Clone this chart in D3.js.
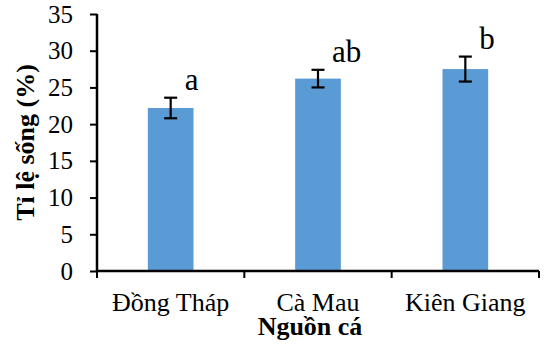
<!DOCTYPE html>
<html>
<head>
<meta charset="utf-8">
<script src="https://cdn.jsdelivr.net/npm/d3@7"></script>
<style>
  body { margin: 0; background: #fff; }
  svg text { font-family: "Liberation Serif", "Times New Roman", "DejaVu Serif", serif !important; fill: #000; }
</style>
</head>
<body>
<div id="chart"></div>
<script>
// data
var categories = ["Đồng Tháp", "Cà Mau", "Kiên Giang"];
var survival = [22.2, 26.2, 27.5];
var errors = [1.4, 1.2, 1.7];
var letters = ["a", "ab", "b"];
var yTicks = [0, 5, 10, 15, 20, 25, 30, 35];

var width = 544, height = 345;
var margin = {left: 97, right: 5, top: 14, bottom: 74};

var svg = d3.select("#chart").append("svg")
    .attr("width", width)
    .attr("height", height);

var x = d3.scaleBand()
    .domain(categories)
    .range([margin.left, width - margin.right])
    .padding(0);

var y = d3.scaleLinear()
    .domain([0, 35])
    .range([height - margin.bottom, margin.top]);

var barW = x.bandwidth() * 0.31;

// bars
svg.selectAll("rect.bar")
    .data(categories)
  .enter().append("rect")
    .attr("class", "bar")
    .attr("x", function(d) { return x(d) + x.bandwidth() / 2 - barW / 2; })
    .attr("y", function(d, i) { return y(survival[i]); })
    .attr("width", barW)
    .attr("height", function(d, i) { return y(0) - y(survival[i]); })
    .attr("fill", "#5B9BD5");

// error bars
var eb = svg.selectAll("g.err")
    .data(categories)
  .enter().append("g")
    .attr("class", "err")
    .attr("stroke", "#000")
    .attr("stroke-width", 2.2);

eb.append("line")
    .attr("x1", function(d) { return x(d) + x.bandwidth() / 2; })
    .attr("x2", function(d) { return x(d) + x.bandwidth() / 2; })
    .attr("y1", function(d, i) { return y(survival[i] + errors[i]); })
    .attr("y2", function(d, i) { return y(survival[i] - errors[i]); });

[1, -1].forEach(function(s) {
  eb.append("line")
      .attr("x1", function(d) { return x(d) + x.bandwidth() / 2 - 6.5; })
      .attr("x2", function(d) { return x(d) + x.bandwidth() / 2 + 6.5; })
      .attr("y1", function(d, i) { return y(survival[i] + s * errors[i]); })
      .attr("y2", function(d, i) { return y(survival[i] + s * errors[i]); });
});

// significance letters
svg.selectAll("text.sig")
    .data(categories)
  .enter().append("text")
    .attr("class", "sig")
    .attr("x", function(d) { return x(d) + x.bandwidth() / 2 + 14; })
    .attr("y", function(d, i) { return y(survival[i] + errors[i]) - 8; })
    .attr("text-anchor", "start")
    .style("font-size", "31px")
    .text(function(d, i) { return letters[i]; });

// y axis
var yAxis = svg.append("g")
    .attr("transform", "translate(" + margin.left + ",0)")
    .call(d3.axisLeft(y).tickValues(yTicks).tickSize(7).tickPadding(17));
yAxis.select(".domain").attr("stroke", "#000").attr("stroke-width", 2.5)
    .attr("d", "M0," + y(0) + "V" + y(35));
yAxis.selectAll(".tick line").attr("stroke", "#000").attr("stroke-width", 2);
yAxis.selectAll(".tick text")
    .style("font-size", "25px");

// x axis
var xAxis = svg.append("g")
    .attr("transform", "translate(0," + y(0) + ")")
    .call(d3.axisBottom(x).tickSize(0).tickPadding(22));
xAxis.select(".domain").attr("stroke", "#000").attr("stroke-width", 2.5)
    .attr("d", "M" + margin.left + ",0H" + (width - margin.right));
xAxis.selectAll(".tick text")
    .style("font-size", "26px");

// category boundary ticks
var bounds = categories.map(function(d) { return x(d); }).concat([x(categories[2]) + x.bandwidth()]);
xAxis.selectAll("line.bound")
    .data(bounds)
  .enter().append("line")
    .attr("class", "bound")
    .attr("x1", function(d) { return d; })
    .attr("x2", function(d) { return d; })
    .attr("y1", 0)
    .attr("y2", 7)
    .attr("stroke", "#000")
    .attr("stroke-width", 2);

// axis titles
svg.append("text")
    .attr("transform", "translate(34," + ((y(0) + y(35)) / 2) + ") rotate(-90)")
    .attr("text-anchor", "middle")
    .style("font-size", "26px")
    .style("font-weight", "bold")
    .text("Tỉ lệ sống (%)");

svg.append("text")
    .attr("x", 310)
    .attr("y", 335)
    .attr("text-anchor", "middle")
    .style("font-size", "26px")
    .style("font-weight", "bold")
    .text("Nguồn cá");
</script>
</body>
</html>
